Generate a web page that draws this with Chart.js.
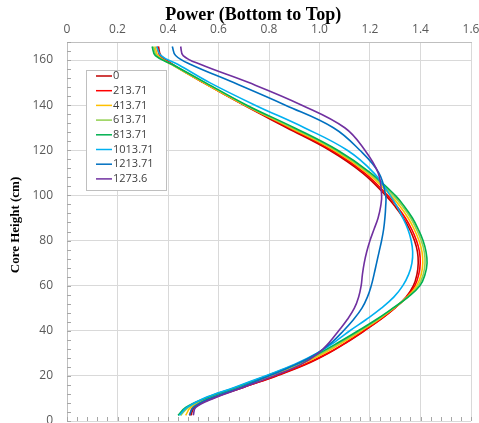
<!DOCTYPE html>
<html>
<head>
<meta charset="utf-8">
<script src="https://cdn.jsdelivr.net/npm/chart.js@4.4.0/dist/chart.umd.min.js"></script>
<style>
    html, body { margin: 0; padding: 0; background: #fff; overflow: hidden; }
    #wrap { width: 479px; height: 423px; position: relative; }
</style>
</head>
<body>
<div id="wrap"><canvas id="powerCanvas"></canvas></div>
<script>
// alturas do núcleo (cm), comuns a todas as séries
const heights = [2.5, 6, 10, 15, 20, 25, 30, 35, 40, 45, 50, 55, 60, 65, 70, 75, 80, 85, 90, 95, 100, 110, 120, 130, 140, 150, 158, 162, 166];

// rótulos das séries (legenda)
const seriesLabels = ['0', '213.71', '413.71', '613.71', '813.71', '1013.71', '1213.71', '1273.6'];

// potência relativa para cada série, na ordem de heights
const power0    = [0.490, 0.505, 0.575, 0.700, 0.830, 0.945, 1.035, 1.110, 1.178, 1.242, 1.298, 1.343, 1.372, 1.386, 1.391, 1.388, 1.376, 1.357, 1.332, 1.300, 1.262, 1.170, 1.040, 0.870, 0.700, 0.540, 0.420, 0.372, 0.362];
const power213  = [0.485, 0.500, 0.570, 0.700, 0.825, 0.940, 1.032, 1.108, 1.175, 1.240, 1.298, 1.345, 1.378, 1.393, 1.399, 1.396, 1.384, 1.365, 1.340, 1.308, 1.270, 1.178, 1.048, 0.878, 0.703, 0.540, 0.418, 0.368, 0.358];
const power413  = [0.470, 0.490, 0.560, 0.685, 0.810, 0.925, 1.018, 1.095, 1.166, 1.234, 1.295, 1.348, 1.385, 1.403, 1.409, 1.406, 1.394, 1.375, 1.351, 1.320, 1.282, 1.188, 1.058, 0.885, 0.705, 0.540, 0.415, 0.360, 0.350];
const power613  = [0.450, 0.480, 0.550, 0.675, 0.800, 0.915, 1.008, 1.086, 1.160, 1.230, 1.293, 1.350, 1.392, 1.411, 1.418, 1.415, 1.403, 1.384, 1.361, 1.330, 1.292, 1.195, 1.065, 0.892, 0.708, 0.545, 0.415, 0.355, 0.343];
const power813  = [0.440, 0.470, 0.545, 0.670, 0.790, 0.905, 0.998, 1.078, 1.153, 1.225, 1.290, 1.352, 1.398, 1.418, 1.426, 1.422, 1.410, 1.391, 1.368, 1.337, 1.300, 1.202, 1.072, 0.900, 0.712, 0.548, 0.418, 0.350, 0.337];
const power1013 = [0.445, 0.475, 0.540, 0.665, 0.785, 0.900, 0.990, 1.060, 1.120, 1.185, 1.245, 1.295, 1.330, 1.353, 1.366, 1.369, 1.363, 1.350, 1.330, 1.307, 1.280, 1.215, 1.110, 0.940, 0.745, 0.565, 0.440, 0.372, 0.355];
const power1213 = [0.485, 0.500, 0.565, 0.690, 0.800, 0.905, 0.990, 1.050, 1.095, 1.135, 1.168, 1.190, 1.205, 1.216, 1.226, 1.236, 1.246, 1.254, 1.259, 1.262, 1.262, 1.235, 1.160, 1.055, 0.865, 0.660, 0.490, 0.430, 0.417];
const power1273 = [0.500, 0.510, 0.580, 0.700, 0.820, 0.925, 0.995, 1.040, 1.076, 1.110, 1.138, 1.155, 1.165, 1.170, 1.177, 1.187, 1.200, 1.216, 1.232, 1.242, 1.246, 1.232, 1.180, 1.100, 0.930, 0.720, 0.530, 0.460, 0.450];

const seriesValues = [power0, power213, power413, power613, power813, power1013, power1213, power1273];
const seriesColors = ['#C00000', '#FF0000', '#FFC000', '#92D050', '#00B050', '#00B0F0', '#0070C0', '#7030A0'];

const tickFont = { family: "'Open Sans', sans-serif", size: 12 };
const nbsp = '\u00A0';

// Legenda desenhada dentro da área do gráfico (canto superior esquerdo)
const boxLegend = {
    id: 'boxLegend',
    afterDraw(chart) {
        const ctx = chart.ctx;
        const x0 = 86, y0 = 70, w = 80, h = 120;
        ctx.save();
        ctx.fillStyle = '#ffffff';
        ctx.fillRect(x0, y0, w, h);
        ctx.strokeStyle = '#bfbfbf';
        ctx.lineWidth = 1;
        ctx.strokeRect(x0 + 0.5, y0 + 0.5, w, h);
        ctx.font = "11px 'Open Sans', sans-serif";
        ctx.textBaseline = 'middle';
        ctx.fillStyle = '#404040';
        chart.data.datasets.forEach((ds, i) => {
            const yy = y0 + 6 + i * 14.7;
            ctx.strokeStyle = ds.borderColor;
            ctx.lineWidth = 1.5;
            ctx.beginPath();
            ctx.moveTo(x0 + 10, yy);
            ctx.lineTo(x0 + 26, yy);
            ctx.stroke();
            ctx.fillText(ds.label, x0 + 27, yy);
        });
        ctx.restore();
    }
};

// Marcas menores nos eixos (para dentro)
const minorTicks = {
    id: 'minorTicks',
    afterDraw(chart) {
        const { ctx, chartArea, scales: { x, y } } = chart;
        ctx.save();
        ctx.strokeStyle = '#a6a6a6';
        ctx.lineWidth = 1;
        ctx.beginPath();
        for (let v = 0; v <= 168; v += 4) {
            const py = Math.round(y.getPixelForValue(v)) + 0.5;
            ctx.moveTo(chartArea.left, py);
            ctx.lineTo(chartArea.left + 4, py);
        }
        for (let i = 0; i <= 40; i++) {
            const px = Math.round(x.getPixelForValue(i * 0.04)) + 0.5;
            ctx.moveTo(px, chartArea.bottom);
            ctx.lineTo(px, chartArea.bottom - 4);
        }
        ctx.stroke();
        ctx.restore();
    }
};

const datasets = seriesLabels.map((label, i) => ({
    label,
    data: heights.map((hgt, j) => ({ x: seriesValues[i][j], y: hgt })),
    borderColor: seriesColors[i],
    backgroundColor: seriesColors[i],
    borderWidth: 1.6,
    pointRadius: 0,
    showLine: true,
    tension: 0.4,
    order: -i
}));

new Chart(document.getElementById('powerCanvas'), {
    type: 'scatter',
    data: { datasets },
    options: {
        responsive: true,
        maintainAspectRatio: false,
        animation: false,
        devicePixelRatio: 1,
        layout: { padding: { left: 0, right: 8, top: 0, bottom: 2 } },
        plugins: {
            legend: { display: false },
            tooltip: { enabled: false }
        },
        scales: {
            x: {
                type: 'linear',
                position: 'top',
                min: 0,
                max: 1.6,
                ticks: { stepSize: 0.2, color: '#595959', font: tickFont, padding: 5, maxRotation: 0 },
                grid: { color: '#d9d9d9', drawTicks: false },
                border: { color: '#bfbfbf' },
                title: {
                    display: true,
                    text: 'Power (Bottom to Top)' + nbsp.repeat(7),
                    color: '#000',
                    font: { family: "'Liberation Serif', serif", size: 18, weight: 'bold' },
                    padding: { top: 5, bottom: 0 }
                },
                afterFit(scale) {
                    scale.height = 42;
                    scale.paddingLeft = 0;
                    scale.paddingRight = 0;
                }
            },
            y: {
                type: 'linear',
                min: 0,
                max: 168,
                ticks: { stepSize: 20, color: '#595959', font: tickFont, padding: 14 },
                afterBuildTicks(scale) {
                    scale.ticks = scale.ticks.filter(t => t.value % 20 === 0);
                },
                grid: { color: '#d9d9d9', drawTicks: false },
                border: { color: '#bfbfbf' },
                title: {
                    display: true,
                    text: nbsp.repeat(4) + 'Core Height (cm)',
                    color: '#000',
                    font: { family: "'Liberation Serif', serif", size: 13, weight: 'bold' },
                    padding: { top: 8, bottom: 0 }
                },
                afterFit(scale) {
                    scale.width = 67;
                    scale.paddingTop = 0;
                    scale.paddingBottom = 0;
                }
            }
        }
    },
    plugins: [minorTicks, boxLegend]
});
</script>
</body>
</html>
